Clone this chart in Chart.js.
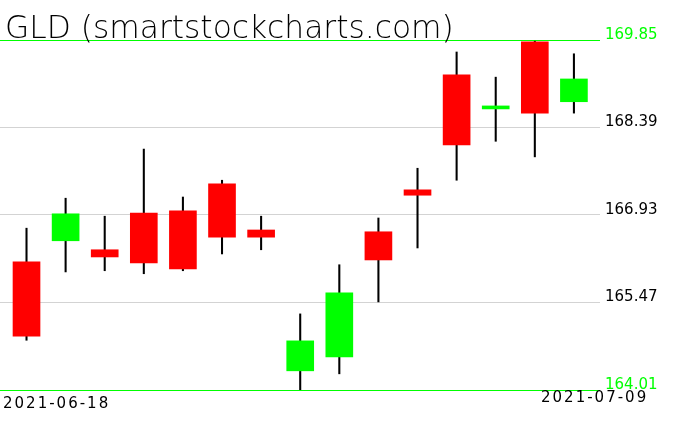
<!DOCTYPE html>
<html>
<head>
<meta charset="utf-8">
<script src="https://cdn.jsdelivr.net/npm/chart.js@4.4.1/dist/chart.umd.min.js"></script>
<style>
  html, body { margin: 0; padding: 0; background: #ffffff; }
  #wrap { width: 676px; height: 431px; position: relative; }
</style>
</head>
<body>
<div id="wrap"><canvas id="c" width="676" height="431"></canvas></div>
<script>
// ---- data ----
const dates = ["2021-06-18","2021-06-21","2021-06-22","2021-06-23","2021-06-24","2021-06-25","2021-06-28","2021-06-29","2021-06-30","2021-07-01","2021-07-02","2021-07-06","2021-07-07","2021-07-08","2021-07-09"];
const openP  = [166.15, 166.50, 166.35, 166.96, 167.00, 167.45, 166.68, 164.33, 164.56, 166.65, 167.35, 169.27, 168.70, 169.82, 168.82];
const highP  = [166.71, 167.21, 166.91, 168.03, 167.23, 167.51, 166.91, 165.28, 166.10, 166.88, 167.71, 169.65, 169.23, 169.83, 169.62];
const lowP   = [164.84, 165.98, 166.00, 165.95, 166.00, 166.28, 166.35, 164.01, 164.28, 165.48, 166.38, 167.51, 168.16, 167.90, 168.63];
const closeP = [164.91, 166.95, 166.23, 166.13, 166.03, 166.56, 166.56, 164.83, 165.63, 166.18, 167.26, 168.10, 168.75, 168.63, 169.20];
const yTicks = [164.01, 165.47, 166.93, 168.39, 169.85];
const titleText = "GLD (smartstockcharts.com)";

const UP = '#00ff00', DOWN = '#ff0000';
const bodies = dates.map((d, i) => ({ x: i, y: [Math.min(openP[i], closeP[i]), Math.max(openP[i], closeP[i])] }));
const wicks  = dates.map((d, i) => ({ x: i, y: [lowP[i], highP[i]] }));
const bodyColors = dates.map((d, i) => closeP[i] >= openP[i] ? UP : DOWN);

const textPlugin = {
  id: 'texts',
  afterDraw(chart) {
    const ctx = chart.ctx;
    ctx.save();
    ctx.fillStyle = '#000';
    ctx.textBaseline = 'alphabetic';
    ctx.textAlign = 'left';
    ctx.font = '200 31.3px "DejaVu Sans"';
    ctx.fillText(titleText, 5, 38);
    ctx.font = '15px "DejaVu Sans"';
    try { ctx.letterSpacing = '2px'; } catch (e) {}
    ctx.fillText(dates[0], 3, 408);
    ctx.fillText(dates[dates.length - 1], 541, 402);
    ctx.restore();
  }
};

new Chart(document.getElementById('c'), {
  type: 'bar',
  data: {
    datasets: [
      { data: bodies, backgroundColor: bodyColors, borderWidth: 0, barThickness: 27, grouped: false, order: 1 },
      { data: wicks, backgroundColor: '#000000', borderWidth: 0, barThickness: 1.4, grouped: false, order: 2 }
    ]
  },
  plugins: [textPlugin],
  options: {
    responsive: false,
    animation: false,
    events: [],
    layout: { padding: { left: 0, right: 0, top: 40, bottom: 41 } },
    plugins: { legend: { display: false }, tooltip: { enabled: false }, title: { display: false } },
    scales: {
      x: {
        type: 'linear',
        offset: false,
        min: -0.678,
        max: 14.667,
        display: false,
        grid: { display: false, offset: false }
      },
      y: {
        position: 'right',
        min: yTicks[0],
        max: yTicks[yTicks.length - 1],
        afterBuildTicks(scale) { scale.ticks = yTicks.map(v => ({ value: v })); },
        afterFit(scale) { scale.width = 76; },
        border: { display: false },
        grid: {
          drawTicks: false,
          lineWidth: 1,
          color: (c) => (c.index === 0 || c.index === yTicks.length - 1) ? UP : '#d3d3d3'
        },
        ticks: {
          padding: 5,
          labelOffset: -5,
          font: { family: 'DejaVu Sans', size: 15 },
          color: (c) => (c.index === 0 || c.index === yTicks.length - 1) ? UP : '#000000',
          callback: (v) => Number(v).toFixed(2)
        }
      }
    }
  }
});
</script>
</body>
</html>
